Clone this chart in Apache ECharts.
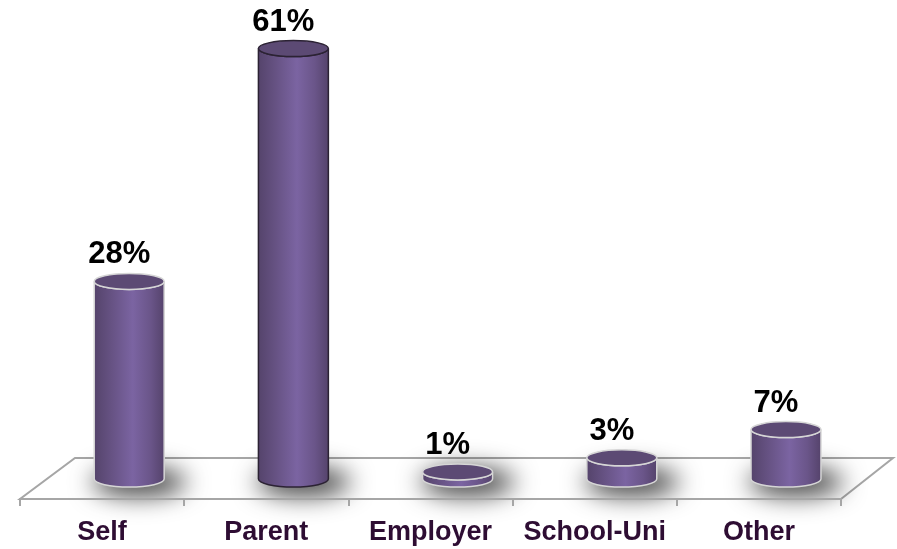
<!DOCTYPE html>
<html>
<head>
<meta charset="utf-8">
<script src="https://cdn.jsdelivr.net/npm/echarts@6/dist/echarts.min.js"></script>
<style>html,body{margin:0;padding:0;background:#fff;}#c{width:897px;height:549px;}</style>
</head>
<body>
<div id="c"></div>
<script>
const categories = ['Self', 'Parent', 'Employer', 'School-Uni', 'Other'];
const values = [28, 61, 1, 3, 7];
const valueLabels = ['28%', '61%', '1%', '3%', '7%'];

const FONT = '"Liberation Sans", Arial, sans-serif';
const chart = echarts.init(document.getElementById('c'), null, {renderer: 'canvas'});

function floorItem(params, api) {
  const cs = params.coordSys;
  const x0 = cs.x, x1 = cs.x + cs.width, yF = cs.y + cs.height;
  const dx = 55, dy = 41;
  return {
    type: 'polygon',
    z2: 0,
    shape: {points: [[x0, yF], [x1, yF], [x1 + 52, yF - dy], [x0 + dx, yF - dy]]},
    style: {fill: '#ffffff', stroke: '#a6a6a6', lineWidth: 2}
  };
}

function cylItem(params, api) {
  const idx = api.value(0);
  const val = api.value(1);
  const base = api.coord([idx, 0]);
  const top = api.coord([idx, val]);
  const band = api.size([1, 0])[0];
  const rx = band * 0.213;
  const ry = 8;
  const cx = base[0] + band * 0.165;
  const by = base[1] - 20;
  const ty = top[1] - 20;
  const outline = params.dataIndex === 1 ? '#2b2233' : '#d6d6d6';
  const grad = new echarts.graphic.LinearGradient(0, 0, 1, 0, [
    {offset: 0, color: '#54436a'},
    {offset: 0.25, color: '#665283'},
    {offset: 0.55, color: '#7b64a2'},
    {offset: 0.8, color: '#6a5589'},
    {offset: 1, color: '#54426a'}
  ]);
  const body = 'M' + (cx - rx) + ' ' + ty +
    ' L' + (cx - rx) + ' ' + by +
    ' A' + rx + ' ' + ry + ' 0 0 0 ' + (cx + rx) + ' ' + by +
    ' L' + (cx + rx) + ' ' + ty +
    ' A' + rx + ' ' + ry + ' 0 0 1 ' + (cx - rx) + ' ' + ty + ' Z';
  return {
    type: 'group',
    children: [
      {
        type: 'ellipse',
        shape: {cx: cx + 10 - 3000, cy: by + 3, rx: rx + 12, ry: ry + 6},
        style: {fill: '#000', shadowBlur: 24, shadowColor: 'rgba(0,0,0,0.75)', shadowOffsetX: 3000, shadowOffsetY: 0}
      },
      {
        type: 'path',
        shape: {pathData: body},
        style: {fill: grad, stroke: outline, lineWidth: 1.5}
      },
      {
        type: 'ellipse',
        shape: {cx: cx, cy: ty, rx: rx, ry: ry},
        style: {fill: '#5c4a74', stroke: outline, lineWidth: 1.5}
      },
      {
        type: 'text',
        style: {
          x: cx - 10, y: ty - ry - 3,
          text: valueLabels[params.dataIndex],
          fill: '#000', font: 'bold 31px ' + FONT,
          textAlign: 'center', textVerticalAlign: 'bottom'
        }
      }
    ]
  };
}

chart.setOption({
  animation: false,
  backgroundColor: '#ffffff',
  grid: {left: 20, right: 56, top: 5, bottom: 50},
  xAxis: {
    type: 'category',
    data: categories,
    boundaryGap: true,
    axisLine: {show: true, lineStyle: {color: '#a6a6a6', width: 2}},
    axisTick: {show: true, length: 7, lineStyle: {color: '#a6a6a6', width: 2}},
    axisLabel: {
      margin: 20, color: '#2e0d33', fontSize: 27, fontWeight: 'bold', fontFamily: FONT,
      interval: 0
    },
    z: 5
  },
  yAxis: {type: 'value', min: 0, max: 70, show: false, splitLine: {show: false}},
  series: [
    {type: 'custom', renderItem: floorItem, data: [[0, 0]], z: 1, silent: true},
    {
      type: 'custom', renderItem: cylItem, z: 3,
      data: values.map((v, i) => [i, v])
    }
  ]
});
</script>
</body>
</html>
